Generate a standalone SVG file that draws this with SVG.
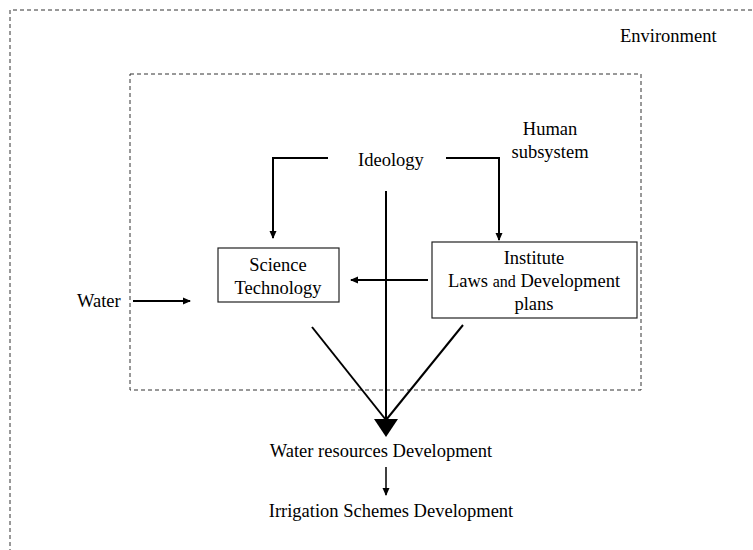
<svg xmlns="http://www.w3.org/2000/svg" width="753" height="550" viewBox="0 0 753 550">
<style>
text{font-family:"Liberation Serif","Times New Roman",serif;font-size:18.5px;fill:#000}
.dash{fill:none;stroke:#333;stroke-width:1;stroke-dasharray:4 3}
.box{fill:#fff;stroke:#222;stroke-width:1.2}
.ln{fill:none;stroke:#000;stroke-width:2}
.thin{fill:none;stroke:#000;stroke-width:1.5}
</style>
<defs>
<marker id="ah" markerWidth="8" markerHeight="8" refX="7" refY="4" orient="auto" markerUnits="userSpaceOnUse">
<path d="M0,0.5 L8,4 L0,7.5 Z" fill="#000"/>
</marker>
</defs>
<rect width="753" height="550" fill="#fff"/>
<g id="environment">
<path class="dash" d="M10,560 L10,10 L760,10"/>
<text x="620" y="42">Environment</text>
</g>
<g id="human-subsystem">
<rect class="dash" x="130" y="74" width="511" height="316"/>
<text x="550" y="135" text-anchor="middle">Human</text>
<text x="550" y="158" text-anchor="middle">subsystem</text>
</g>
<g id="ideology">
<text x="391" y="166" text-anchor="middle">Ideology</text>
</g>
<g id="science">
<rect class="box" x="218" y="248" width="121" height="54"/>
<text x="278" y="271" text-anchor="middle">Science</text>
<text x="278" y="294" text-anchor="middle">Technology</text>
</g>
<g id="institute">
<rect class="box" x="432" y="242" width="205" height="76"/>
<text x="534" y="264" text-anchor="middle">Institute</text>
<text x="534" y="287" text-anchor="middle">Laws <tspan font-size="16">and</tspan> Development</text>
<text x="534" y="310" text-anchor="middle">plans</text>
</g>
<g id="water">
<text x="77" y="307">Water</text>
</g>
<g id="water-resources">
<text x="381" y="457" text-anchor="middle">Water resources Development</text>
</g>
<g id="irrigation">
<text x="391" y="517" text-anchor="middle">Irrigation Schemes Development</text>
</g>
<g id="connectors">
<path class="ln" d="M328,158 L273,158 L273,238" marker-end="url(#ah)"/>
<path class="ln" d="M446,158 L499,158 L499,240" marker-end="url(#ah)"/>
<path class="ln" d="M386,191 L386,420"/>
<path class="ln" d="M312,327 L386,420"/>
<path class="ln" d="M463,325 L386,420"/>
<path d="M374,419 L398,419 L386,437 Z" fill="#000"/>
<path class="ln" d="M428,280 L351,280" marker-end="url(#ah)"/>
<path class="ln" d="M133,301 L190,301" marker-end="url(#ah)"/>
<path class="thin" d="M386,467 L386,495" marker-end="url(#ah)"/>
</g>
</svg>
